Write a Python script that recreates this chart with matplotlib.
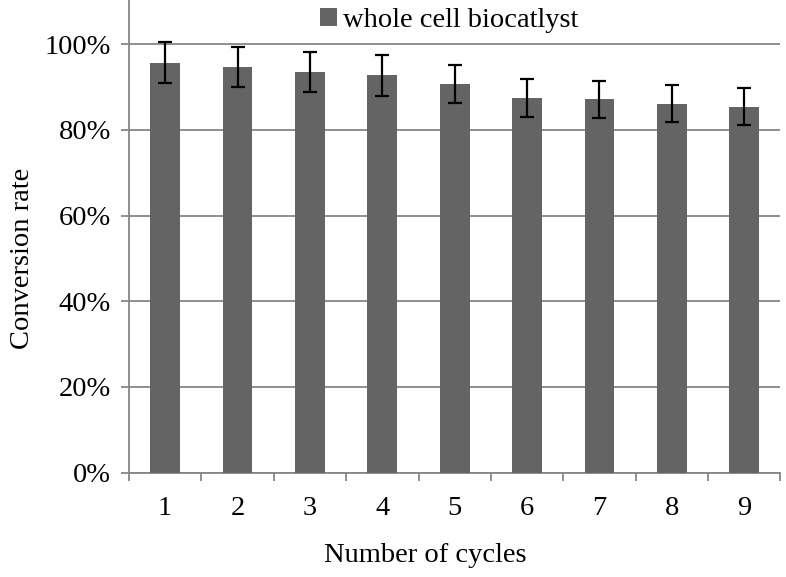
import numpy as np
import matplotlib.pyplot as plt
from matplotlib.ticker import FixedLocator, PercentFormatter

# conversion rate per reuse cycle
cycles = [1, 2, 3, 4, 5, 6, 7, 8, 9]
conversion = [0.957, 0.947, 0.935, 0.927, 0.907, 0.874, 0.871, 0.861, 0.854]
errors = [0.048, 0.047, 0.047, 0.047, 0.045, 0.044, 0.044, 0.043, 0.043]

plt.rcParams['font.family'] = ['Liberation Serif', 'DejaVu Serif']
grey = '#868686'
fs = 20.5

fig = plt.figure(figsize=(7.86, 5.77), dpi=100)
ax = fig.add_axes([0.164, 0.181, 0.829, 0.819])

ax.bar(cycles, conversion, width=0.41, color='#646464', zorder=3,
       label='whole cell biocatlyst')
ax.errorbar(cycles, conversion, yerr=errors, fmt='none', ecolor='black',
            elinewidth=1.6, capsize=5, capthick=1.6, zorder=4)

ax.set_xlim(0.5, 9.5)
ax.set_ylim(0, 1.103)
ax.set_yticks(np.arange(0, 1.01, 0.2))
ax.yaxis.set_major_formatter(PercentFormatter(1.0, decimals=0))
ax.grid(axis='y', color=grey, linewidth=1.3, zorder=0)

# excel-style ticks: marks between categories, labels at centres
ax.xaxis.set_major_locator(FixedLocator(np.arange(0.5, 9.6, 1)))
ax.xaxis.set_minor_locator(FixedLocator(cycles))
ax.set_xticklabels([])
ax.set_xticklabels([str(c) for c in cycles], minor=True)
ax.tick_params(axis='x', which='major', length=6, width=1.3, color=grey)
ax.tick_params(axis='x', which='minor', length=0, pad=17, labelsize=fs)
ax.tick_params(axis='y', length=6, width=1.3, color=grey, labelsize=fs, pad=7)

for s in ['top', 'right']:
    ax.spines[s].set_visible(False)
for s in ['left', 'bottom']:
    ax.spines[s].set_color(grey)
    ax.spines[s].set_linewidth(1.3)

fig.text(0.028, 0.553, 'Conversion rate', rotation=90, fontsize=fs,
         ha='center', va='center')
fig.text(0.541, 0.038, 'Number of cycles', fontsize=fs, ha='center', va='center')

ax.legend(loc='upper center', bbox_to_anchor=(0.492, 0.99), frameon=False,
          fontsize=fs, handlelength=0.6, handleheight=0.6, handletextpad=0.2,
          borderaxespad=0, borderpad=0.1)

fig.savefig('out.png', dpi=100)
